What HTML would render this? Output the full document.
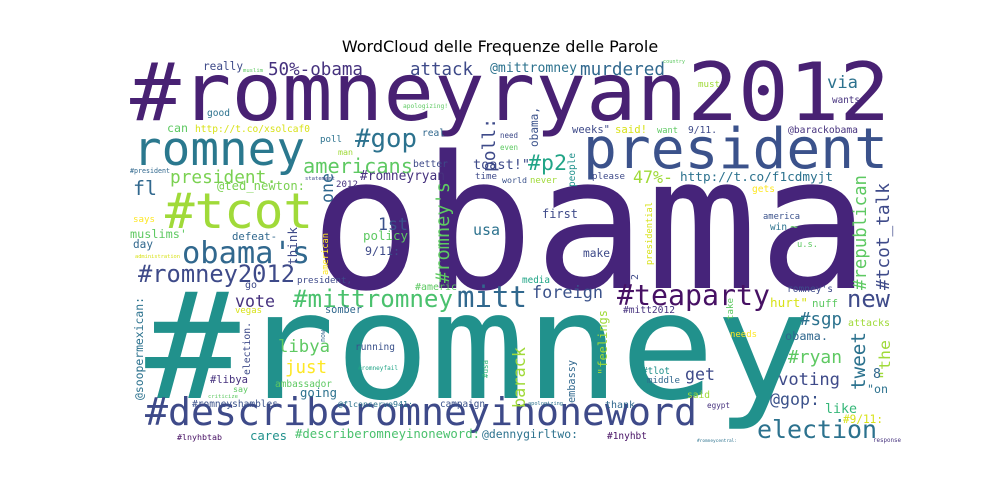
<!DOCTYPE html>
<html><head><meta charset="utf-8"><style>
html,body{margin:0;padding:0;background:#fff;width:1000px;height:500px;overflow:hidden}
svg{display:block}
</style></head><body>
<svg id="wc" width="1000" height="500" viewBox="0 0 1000 500" xmlns="http://www.w3.org/2000/svg">
<rect width="1000" height="500" fill="#fff"/>
<text x="500" y="52" text-anchor="middle" font-family="DejaVu Sans, Liberation Sans, sans-serif" font-size="16" fill="#000">WordCloud delle Frequenze delle Parole</text>
<g id="words" font-family="DejaVu Sans Mono, Liberation Mono, monospace"></g>
</svg>
<script>
// word, x, baseline y, font size, colour, text length, rotated(1)
const words = [
["#romneyryan2012",130,120,80,"#482173",760,0],
["obama",310,288,185,"#46247a",560,0],
["#romney",145,398,148,"#21918c",665,0],
["romney",133,165,52,"#2a788e",172,0],
["president",583,168,58,"#3b528b",305,0],
["#tcot",165,228,58,"#a0da39",148,0],
["obama's",182,263,34,"#31688e",128,0],
["#romney2012",138,282,27,"#3e4a89",157,0],
["#describeromneyinoneword",145,425,43,"#3e4a89",552,0],
["election",757,438,30,"#2c728e",120,0],
["#teaparty",617,305,32,"#471164",153,0],
["#mittromney",293,307,27,"#4ac16d",160,0],
["mitt",457,307,30,"#31688e",70,0],
["foreign",532,298,25,"#3b528b",71,0],
["new",847,307,30,"#3e4a89",43,0],
["americans",303,173,26,"#5ec962",110,0],
["#gop",355,147,30,"#2c728e",62,0],
["50%-obama",268,75,22,"#46327e",95,0],
["attack",410,75,24,"#3e4a89",63,0],
["@mittromney",490,72,17,"#2c728e",87,0],
["murdered",580,75,22,"#31688e",85,0],
["via",827,88,22,"#2c728e",31,0],
["president.",170,183,22,"#7ad151",107,0],
["#romneyryan",360,180,17,"#46327e",85,0],
["@ted_newton:",217,190,16,"#7ad151",88,0],
["fl",133,195,26,"#31688e",24,0],
["#p2",528,170,28,"#20a486",39,0],
["47%-",633,183,25,"#a0da39",40,0],
["http://t.co/f1cdmyjt",680,181,15,"#2c728e",153,0],
["http://t.co/xsolcaf0",195,132,13,"#d8e219",115,0],
["poll:",495,172,20,"#3e4a89",54,1],
["1st",378,230,24,"#3b528b",30,0],
["policy",363,240,20,"#5ec962",45,0],
["usa",473,235,24,"#2c728e",27,0],
["#romney's",449,283,22,"#5ec962",101,1],
["one",333,203,18,"#31688e",30,1],
["vote",235,307,24,"#46327e",40,0],
["libya",278,352,26,"#5ec962",52,0],
["just",285,373,28,"#fde725",42,0],
["#libya",210,383,18,"#46327e",38,0],
["ambassador",275,387,16,"#5ec962",57,0],
["going",300,397,20,"#2c728e",37,0],
["running",355,350,16,"#3b528b",40,0],
["somber",325,313,16,"#31688e",37,0],
["@soopermexican:",143,400,18,"#2c728e",103,1],
["#romneyshambles",192,407,14,"#3b528b",86,0],
["@flconserve941:",338,407,14,"#2c728e",75,0],
["campaign",440,407,15,"#3b528b",45,0],
["#lnyhbtab",177,440,13,"#471164",45,0],
["cares",250,440,18,"#21918c",37,0],
["#describeromneyinoneword:",295,438,15,"#4ac16d",185,0],
["@dennygirltwo:",482,438,15,"#2c728e",96,0],
["#1nyhbt",607,439,14,"#471164",40,0],
["voting",778,385,24,"#3e4a89",62,0],
["@gop:",770,405,24,"#3b528b",50,0],
["like",825,413,22,"#35b779",32,0],
["#ryan",788,363,24,"#5ec962",54,0],
["#sgp",800,325,22,"#2c728e",42,0],
["obama.",785,340,16,"#31688e",43,0],
["tweet",865,390,24,"#2c728e",58,1],
["attacks",848,326,15,"#a0da39",42,0],
["hurt\"",770,307,16,"#d8e219",38,0],
["nuff",812,307,15,"#5ec962",26,0],
["romney's",787,292,14,"#3e4a89",46,0],
["#tcot_talk",889,290,22,"#3e4a89",107,1],
["#republican",866,290,22,"#5ec962",115,1],
["barack",525,408,22,"#a0da39",61,1],
["get",685,380,24,"#3e4a89",30,0],
["middle",647,383,13,"#31688e",33,0],
["#tlot",642,374,13,"#21918c",28,0],
["embassy",575,403,16,"#31688e",43,1],
["\"feelings",607,375,18,"#a0da39",65,1],
["#mitt2012",623,313,14,"#46327e",52,0],
["needs",730,337,14,"#fde725",27,0],
["said",687,398,14,"#a0da39",23,0],
["egypt",707,408,14,"#46327e",23,0],
["thank",605,408,14,"#31688e",30,0],
["make",583,257,14,"#3e4a89",27,0],
["media",522,283,13,"#20a486",28,0],
["first",542,218,20,"#3e4a89",36,0],
["america",763,219,16,"#3b528b",37,0],
["win",770,230,14,"#2c728e",17,0],
["must",698,87,14,"#a0da39",22,0],
["wants",832,103,14,"#46327e",28,0],
["weeks\"",572,133,15,"#3e4a89",38,0],
["said!",615,133,16,"#d8e219",32,0],
["want",657,133,13,"#5ec962",21,0],
["9/11.",688,133,14,"#3e4a89",29,0],
["@barackobama",788,133,12,"#46327e",70,0],
["obama,",538,147,15,"#3b528b",40,1],
["people",575,187,14,"#21918c",34,1],
["please",592,179,14,"#3e4a89",33,0],
["gets",752,192,14,"#fde725",23,0],
["presidential",652,265,13,"#d8e219",63,1],
["really",203,70,14,"#3e4a89",40,0],
["good",207,116,14,"#2c728e",23,0],
["can",167,132,16,"#5ec962",21,0],
["poll",320,142,13,"#2c728e",22,0],
["man",338,155,11,"#a0da39",15,0],
["real",422,136,13,"#31688e",23,0],
["better",413,167,13,"#3e4a89",35,0],
["toast!\"",473,169,15,"#3e4a89",57,0],
["time",475,179,12,"#3e4a89",22,0],
["2012",336,187,13,"#46327e",22,0],
["muslims'",130,238,17,"#5ec962",57,0],
["day",133,248,16,"#31688e",20,0],
["says",133,222,13,"#fde725",22,0],
["defeat-",232,240,17,"#31688e",45,0],
["think",297,265,15,"#3e4a89",38,1],
["american",328,275,15,"#fde725",42,1],
["9/11:",365,255,16,"#3e4a89",35,0],
["president,",297,283,15,"#3e4a89",55,0],
["go",245,288,14,"#3e4a89",12,0],
["#americ",415,290,14,"#5ec962",42,0],
["vegas",235,313,14,"#d8e219",27,0],
["election.",250,375,15,"#3e4a89",53,1],
["now",325,342,13,"#31688e",12,1],
["say",233,392,14,"#5ec962",15,0],
["#usa",488,378,13,"#35b779",18,1],
["\"the",890,380,15,"#a0da39",40,1],
["\"on",867,393,15,"#2c728e",21,0],
["#9/11:",843,423,15,"#d8e219",40,0],
["8",873,378,14,"#31688e",8,0],
["~",790,231,13,"#5ec962",8,0],
["u.s.",797,247,13,"#5ec962",21,0],
["never",530,183,13,"#a0da39",27,0],
["world",502,183,13,"#3b528b",25,0],
["need",500,138,13,"#3e4a89",18,0],
["even",500,150,13,"#5ec962",18,0],
["2",638,280,13,"#3e4a89",6,1],
["take",733,320,12,"#5ec962",22,1],
["apologizing!",403,108,8,"#5ec962",45,0],
["#president",130,173,7,"#31688e",40,0],
["administration",135,258,7,"#d8e219",45,0],
["#romneyfail",358,370,7,"#20a486",40,0],
["#romneycentral:",697,442,7,"#2c728e",40,0],
["response",873,442,7,"#46327e",28,0],
["apologizing",528,405,7,"#2c728e",35,0],
["criticize",208,398,7,"#5ec962",30,0],
["statement",305,180,7,"#3e4a89",30,0],
["muslim",243,72,7,"#5ec962",20,0],
["country",663,63,7,"#5ec962",22,0]
];
const g = document.getElementById('words');
const NS = 'http://www.w3.org/2000/svg';
for (const w of words) {
  const t = document.createElementNS(NS, 'text');
  
  
  const fs = Math.min(w[3], w[5] / (w[0].length * 0.602));
  t.setAttribute('x', w[1]);
  t.setAttribute('y', w[2]);
  t.setAttribute('font-size', fs.toFixed(2));
  t.setAttribute('fill', w[4]);
  t.setAttribute('textLength', w[5]);
  t.setAttribute('lengthAdjust', 'spacingAndGlyphs');
  if (w[6]) t.setAttribute('transform', 'rotate(-90 ' + w[1] + ' ' + w[2] + ')');
  t.textContent = w[0];
  g.appendChild(t);
}
</script>
</body></html>
